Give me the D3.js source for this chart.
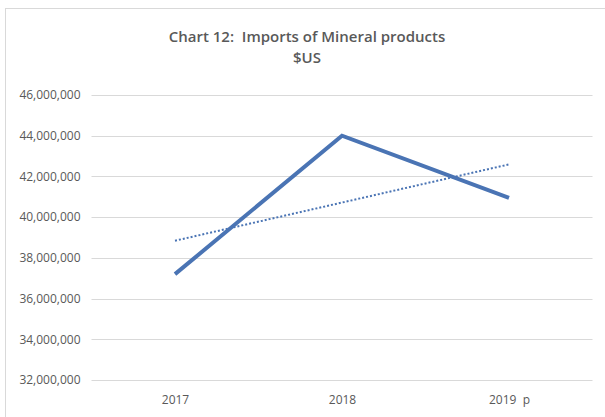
<!DOCTYPE html>
<html><head><meta charset="utf-8">
<script src="https://cdn.jsdelivr.net/npm/d3@7"></script>
<style>body{margin:0;background:#fff}svg{display:block}text{white-space:pre}</style>
</head><body>
<script>
const categories = ["2017", "2018", "2019  p"];
const imports = [37200000, 44000000, 40950000];
const yTicks = [32000000, 34000000, 36000000, 38000000, 40000000, 42000000, 44000000, 46000000];
const titleLines = ["Chart 12:  Imports of Mineral products", "$US"];

const W = 605, H = 417;
const margin = {left: 91.5, right: 12.5, top: 95, bottom: 37};
const svg = d3.select("body").append("svg").attr("width", W).attr("height", H);

svg.append("rect").attr("x", 5.5).attr("y", 8.5).attr("width", 620).attr("height", 420)
  .attr("fill", "#fff").attr("stroke", "#d9d9d9").attr("stroke-width", 1);

const x = d3.scalePoint().domain(categories).range([margin.left, W - margin.right]).padding(0.5);
const y = d3.scaleLinear().domain([32000000, 46000000]).range([H - margin.bottom, margin.top]);

// gridlines
svg.append("g").selectAll("line").data(yTicks).join("line")
  .attr("x1", margin.left).attr("x2", W - margin.right)
  .attr("y1", d => Math.round(y(d)) + 0.5).attr("y2", d => Math.round(y(d)) + 0.5)
  .attr("stroke", "#d9d9d9").attr("stroke-width", 1.2);

// y axis labels
const yAxis = d3.axisLeft(y).tickValues(yTicks).tickFormat(d3.format(",")).tickSize(0).tickPadding(11);
svg.append("g").attr("transform", `translate(${margin.left},0)`).call(yAxis)
  .call(g => g.select(".domain").remove())
  .call(g => g.selectAll("text").attr("fill", "#595959").attr("font-size", 12)
     .attr("font-family", "'Open Sans', sans-serif"));

// x axis labels
const xAxis = d3.axisBottom(x).tickSize(0).tickPadding(15);
svg.append("g").attr("transform", `translate(0,${H - margin.bottom})`).call(xAxis)
  .call(g => g.select(".domain").remove())
  .call(g => g.selectAll("text").attr("fill", "#595959").attr("font-size", 12)
     .attr("font-family", "'Open Sans', sans-serif"));

// trendline (least squares on category index)
const xs = imports.map((_, i) => i + 1);
const mx = d3.mean(xs), my = d3.mean(imports);
const slope = d3.sum(xs.map((xi, i) => (xi - mx) * (imports[i] - my))) / d3.sum(xs.map(xi => (xi - mx) ** 2));
const trend = xs.map(xi => my + slope * (xi - mx));

const line = d3.line().x((d, i) => x(categories[i])).y(d => y(d));

svg.append("path").datum(trend).attr("d", line)
  .attr("fill", "none").attr("stroke", "#4a74b4").attr("stroke-width", 2)
  .attr("stroke-dasharray", "2,2");

svg.append("path").datum(imports).attr("d", line)
  .attr("fill", "none").attr("stroke", "#4a74b4").attr("stroke-width", 4)
  .attr("stroke-linejoin", "miter");

// title
svg.append("g").selectAll("text").data(titleLines).join("text")
  .attr("x", 307).attr("y", (d, i) => 42 + i * 21)
  .attr("text-anchor", "middle").attr("fill", "#595959")
  .attr("font-family", "'Open Sans', sans-serif").attr("font-weight", 600)
  .attr("font-size", 15)
  .text(d => d);
</script>
</body></html>
